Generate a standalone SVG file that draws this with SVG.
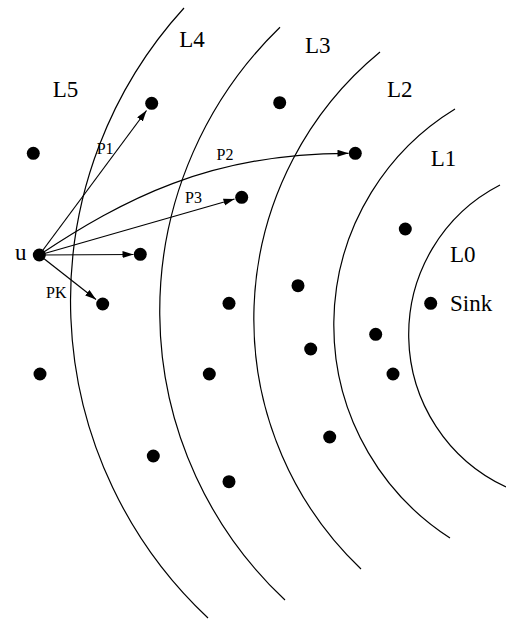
<svg xmlns="http://www.w3.org/2000/svg" width="506" height="619" viewBox="0 0 506 619">
<style>
.arc{fill:none;stroke:#000;stroke-width:1.2}
.edge{fill:none;stroke:#000;stroke-width:1.2;marker-end:url(#ah)}
.dot{fill:#000}
.big{font-family:"Liberation Serif","Times New Roman",serif;font-size:23px;fill:#000}
.small{font-family:"Liberation Serif","Times New Roman",serif;font-size:16px;fill:#000}
</style>
<defs>
<marker id="ah" markerUnits="userSpaceOnUse" markerWidth="12" markerHeight="8" refX="11" refY="3.5" orient="auto">
<path d="M0,0 L11,3.5 L0,7 z" fill="#000"/>
</marker>
</defs>
<rect width="506" height="619" fill="#fff"/>
<g id="levels">
<path class="arc" d="M184,8 A434.6,434.6 0 0 0 208,618"/>
<path class="arc" d="M280,27.3 A395.4,395.4 0 0 0 285,600"/>
<path class="arc" d="M380,52 A345.4,345.4 0 0 0 361,569"/>
<path class="arc" d="M455,109 A253.2,253.2 0 0 0 450,538"/>
<path class="arc" d="M500,185 A168.1,168.1 0 0 0 506,487"/>
<text class="big" x="52.7" y="97.3">L5</text>
<text class="big" x="179.3" y="46.7">L4</text>
<text class="big" x="305" y="53">L3</text>
<text class="big" x="387" y="97.3">L2</text>
<text class="big" x="430.7" y="165.7">L1</text>
<text class="big" x="450" y="261.7">L0</text>
</g>
<g id="connectors">
<path class="edge" d="M39.3,255 L146.5,110.5"/>
<path class="edge" d="M39.3,255 C122.4,199.9 210,153 348.5,153.3"/>
<path class="edge" d="M39.3,255 L234.5,199"/>
<path class="edge" d="M39.3,255 L133.5,254.5"/>
<path class="edge" d="M39.3,255 L96,299.5"/>
<text class="small" x="96.7" y="154">P1</text>
<text class="small" x="216.5" y="159.5">P2</text>
<text class="small" x="185" y="203.3">P3</text>
<text class="small" x="46" y="298.3">PK</text>
</g>
<g id="u"><circle class="dot" cx="39.3" cy="255" r="6.5"/><text class="big" x="15" y="260">u</text></g>
<g id="sink"><circle class="dot" cx="430.7" cy="303.3" r="6.5"/><text class="big" x="450" y="310.7">Sink</text></g>
<g id="n1"><circle class="dot" cx="151.7" cy="103.3" r="6.5"/></g>
<g id="n2"><circle class="dot" cx="33.3" cy="153.3" r="6.5"/></g>
<g id="n3"><circle class="dot" cx="241.7" cy="197.3" r="6.5"/></g>
<g id="n4"><circle class="dot" cx="140.3" cy="254.3" r="6.5"/></g>
<g id="n5"><circle class="dot" cx="102.7" cy="304" r="6.5"/></g>
<g id="n6"><circle class="dot" cx="229" cy="303.3" r="6.5"/></g>
<g id="n7"><circle class="dot" cx="279.7" cy="102.7" r="6.5"/></g>
<g id="n8"><circle class="dot" cx="355.3" cy="153.3" r="6.5"/></g>
<g id="n9"><circle class="dot" cx="405.3" cy="229" r="6.5"/></g>
<g id="n10"><circle class="dot" cx="298" cy="285.7" r="6.5"/></g>
<g id="n11"><circle class="dot" cx="40" cy="374" r="6.5"/></g>
<g id="n12"><circle class="dot" cx="209.3" cy="374" r="6.5"/></g>
<g id="n13"><circle class="dot" cx="153.3" cy="456" r="6.5"/></g>
<g id="n14"><circle class="dot" cx="229" cy="481.7" r="6.5"/></g>
<g id="n15"><circle class="dot" cx="310.7" cy="349" r="6.5"/></g>
<g id="n16"><circle class="dot" cx="375.7" cy="334.3" r="6.5"/></g>
<g id="n17"><circle class="dot" cx="393" cy="374" r="6.5"/></g>
<g id="n18"><circle class="dot" cx="329.7" cy="437" r="6.5"/></g>
</svg>
